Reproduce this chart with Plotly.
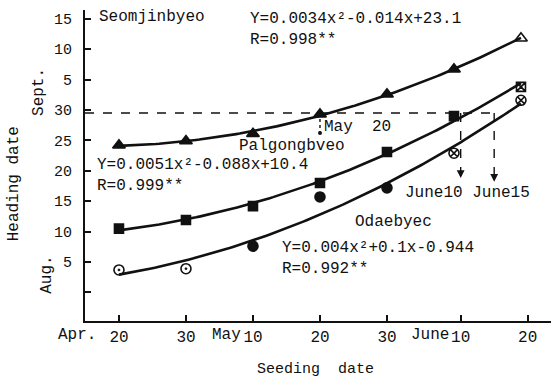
import numpy as np
import plotly.graph_objects as go

# ---- data ----
# seeding dates expressed as days after April 20 (Apr 20, Apr 30, May 10, May 20, May 30, June 9, June 19)
seeding_days = [0, 10, 20, 30, 40, 50, 60]
# heading dates: Aug d -> d, Sept d -> 30 + d (axis as drawn in the figure)
seomjinbyeo = [24.2, 24.9, 26.1, 29.3, 32.6, 36.7, 41.8]
palgongbyeo = [10.5, 11.9, 14.2, 18.0, 23.1, 29.0, 33.8]
odaebyeo = [3.7, 3.9, 7.6, 15.7, 17.2, 22.9, 31.6]

seom_symbols = ["triangle-up"] * 6 + ["triangle-up-open"]
palg_symbols = ["square"] * 6 + ["square-x-open"]
odae_symbols = ["circle-open-dot", "circle-open-dot", "circle", "circle", "circle",
                "circle-x-open", "circle-x-open"]

x_tick_vals = [0, 10, 20, 30, 40, 51, 61]
x_tick_text = ["20", "30", "10", "20", "30", "10", "20"]
y_tick_vals = [0, 5, 10, 15, 20, 25, 30, 35, 40, 45]
y_tick_text = ["", "5", "10", "15", "20", "25", "30", "5", "10", "15"]

threshold_heading = 29.5          # Aug 30 reference line
cross_may20 = 30                  # May 20
cross_june10 = 51                 # June 10
cross_june15 = 56                 # June 15
arrow_end_june10 = 18.8
arrow_end_june15 = 18.2
may20_drop_end = 26.2

X_RANGE = [-5.07, 64.48]
Y_RANGE = [-4.70, 46.45]

FONT = "Liberation Mono"
BLACK = "#111111"

fig = go.Figure()

xs = np.linspace(min(seeding_days), max(seeding_days), 121)
for vals, syms, size in [(seomjinbyeo, seom_symbols, 11),
                         (palgongbyeo, palg_symbols, 9),
                         (odaebyeo, odae_symbols, 10)]:
    coef = np.polyfit(seeding_days, vals, 2)
    fig.add_trace(go.Scatter(x=xs, y=np.polyval(coef, xs), mode="lines",
                             line=dict(color=BLACK, width=2.6), showlegend=False,
                             hoverinfo="skip"))
    fig.add_trace(go.Scatter(x=seeding_days, y=vals, mode="markers",
                             marker=dict(symbol=syms, size=size, color=BLACK,
                                         line=dict(color=BLACK, width=1.6)),
                             showlegend=False))

# dashed reference lines
dash_style = dict(color=BLACK, width=1.4, dash="dash")
fig.add_trace(go.Scatter(x=[X_RANGE[0], cross_june15], y=[threshold_heading] * 2,
                         mode="lines", line=dash_style, showlegend=False, hoverinfo="skip"))
fig.add_trace(go.Scatter(x=[cross_june10] * 2, y=[threshold_heading, arrow_end_june10],
                         mode="lines", line=dash_style, showlegend=False, hoverinfo="skip"))
fig.add_trace(go.Scatter(x=[cross_june15] * 2, y=[threshold_heading, arrow_end_june15],
                         mode="lines", line=dash_style, showlegend=False, hoverinfo="skip"))
fig.add_trace(go.Scatter(x=[cross_may20] * 2, y=[threshold_heading, may20_drop_end],
                         mode="lines", line=dict(color=BLACK, width=1.4, dash="dot"),
                         showlegend=False, hoverinfo="skip"))
fig.add_trace(go.Scatter(x=[cross_may20], y=[may20_drop_end], mode="markers",
                         marker=dict(size=4, color=BLACK), showlegend=False, hoverinfo="skip"))

annotations = []
for xv, yv in [(cross_june10, arrow_end_june10), (cross_june15, arrow_end_june15)]:
    annotations.append(dict(x=xv, y=yv, xref="x", yref="y", ax=0, ay=-9, showarrow=True,
                            arrowhead=2, arrowsize=1.2, arrowwidth=1.3, arrowcolor=BLACK, text=""))

def txt(text, x, y, size=16, xanchor="left", xref="x", yref="y", angle=0, yanchor="middle"):
    annotations.append(dict(text=text, x=x, y=y, xref=xref, yref=yref, showarrow=False,
                            xanchor=xanchor, yanchor=yanchor, textangle=angle, align="left",
                            font=dict(family=FONT, size=size, color=BLACK)))

txt("Seomjinbyeo", -3.3, 45.3, size=16)
txt("Y=0.0034x²-0.014x+23.1<br>R=0.998**", 19.25, 43.2, size=16)
txt("May  20", 30.3, 27.2)
txt("Palgongbveo", 17.6, 24.1)
txt("Y=0.0051x²-0.088x+10.4<br>R=0.999**", -3.6, 19.15, size=16)
txt("June10 June15", 42.4, 16.35, size=16)
txt("Odaebyec", 34.9, 11.6)
txt("Y=0.004x²+0.1x-0.944<br>R=0.992**", 24.0, 5.5, size=16)

# axis decorations
txt("Apr.", -0.017, -0.045, size=16, xanchor="center", xref="paper", yref="paper")
txt("May", 16.0, -0.045, size=16, xanchor="center", yref="paper")
txt("June", 46.4, -0.045, size=16, xanchor="center", yref="paper")
txt("Seeding  date", 0.495, -0.155, size=15, xanchor="center", xref="paper", yref="paper")
txt("Sept.", -0.099, 0.736, size=16, xanchor="center", xref="paper", yref="paper", angle=-90)
txt("Aug.", -0.082, 0.148, size=16, xanchor="center", xref="paper", yref="paper", angle=-90)
txt("Heading date", -0.152, 0.44, size=16, xanchor="center", xref="paper", yref="paper", angle=-90)

fig.update_layout(
    template="none",
    width=551, height=381,
    margin=dict(l=85, r=0, t=10, b=60, autoexpand=False),
    paper_bgcolor="white", plot_bgcolor="white",
    annotations=annotations,
    showlegend=False,
    xaxis=dict(range=X_RANGE, tickmode="array", tickvals=x_tick_vals, ticktext=x_tick_text,
               showline=True, linecolor=BLACK, linewidth=2, ticks="inside", ticklen=6,
               tickwidth=1.5, tickcolor=BLACK, showgrid=False, zeroline=False, automargin=False,
               tickfont=dict(family=FONT, size=16, color=BLACK)),
    yaxis=dict(range=Y_RANGE, tickmode="array", tickvals=y_tick_vals, ticktext=y_tick_text,
               showline=True, linecolor=BLACK, linewidth=2, ticks="inside", ticklen=6,
               tickwidth=1.5, tickcolor=BLACK, showgrid=False, zeroline=False, automargin=False,
               ticklabelstandoff=8,
               tickfont=dict(family=FONT, size=15, color=BLACK)),
)

fig.write_html("out.html", config={"displayModeBar": False},
               post_script="document.body.style.margin='0';document.body.style.overflow='hidden';")
